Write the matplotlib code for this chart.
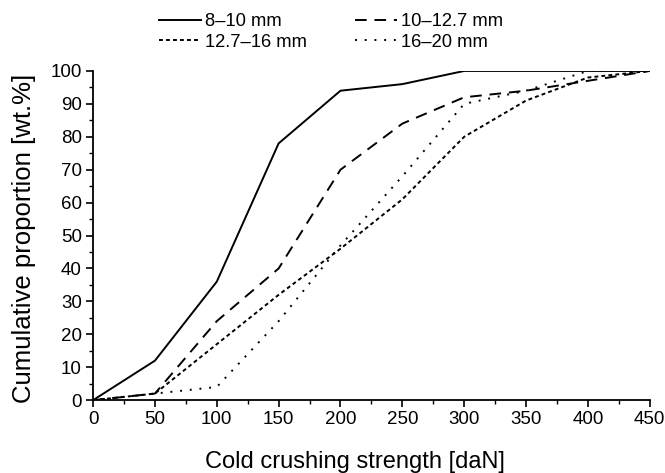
import matplotlib
matplotlib.use("Agg")
import matplotlib.pyplot as plt
from matplotlib.ticker import MultipleLocator

plt.rcParams["font.family"] = ["Liberation Sans", "DejaVu Sans"]

# Cold crushing strength [daN] vs cumulative proportion [wt.%]
strength = [0, 50, 100, 150, 200, 250, 300, 350, 400, 450]
size_labels = ["8–10 mm", "10–12.7 mm", "12.7–16 mm", "16–20 mm"]
cum_8_10 = [0, 12, 36, 78, 94, 96, 100, 100, 100, 100]
cum_10_12 = [0, 2, 24, 40, 70, 84, 92, 94, 97, 100]
cum_12_16 = [0, 2, 17, 32, 46, 61, 80, 91, 98, 100]
cum_16_20 = [0, 2, 4, 24, 47, 68, 90, 94, 100, 100]

styles = ["-", (0, (6, 4)), (0, (2, 1.6)), (0, (1, 4))]

fig = plt.figure(figsize=(6.65, 4.73), dpi=100)
ax = fig.add_axes([0.14, 0.154, 0.837, 0.696])

series = [cum_8_10, cum_10_12, cum_12_16, cum_16_20]
lines = []
for values, label, ls in zip(series, size_labels, styles):
    ln, = ax.plot(strength, values, color="black", linestyle=ls, linewidth=1.4, label=label)
    lines.append(ln)

ax.set_xlim(0, 450)
ax.set_ylim(0, 100)
ax.xaxis.set_major_locator(MultipleLocator(50))
ax.xaxis.set_minor_locator(MultipleLocator(25))
ax.yaxis.set_major_locator(MultipleLocator(10))
ax.yaxis.set_minor_locator(MultipleLocator(5))
ax.tick_params(which="major", direction="out", length=5, width=1.2, labelsize=13.5, pad=3)
ax.tick_params(which="minor", direction="out", length=3, width=1)
for side in ["top", "right"]:
    ax.spines[side].set_visible(False)
for side in ["left", "bottom"]:
    ax.spines[side].set_linewidth(1.3)

ax.set_xlabel("Cold crushing strength [daN]", fontsize=17)
ax.set_ylabel("Cumulative proportion [wt.%]", fontsize=18.5)
ax.xaxis.set_label_coords(0.47, -0.153)
ax.yaxis.set_label_coords(-0.102, 0.49)

# legend fills column-wise, so reorder to get rows: 8-10 | 10-12.7, 12.7-16 | 16-20
order = [0, 2, 1, 3]
fig.legend([lines[i] for i in order], [size_labels[i] for i in order],
           loc="center", bbox_to_anchor=(331 / 665, 1 - 32 / 473), ncol=2,
           frameon=False, fontsize=13.2, handlelength=2.3, handletextpad=0.2,
           columnspacing=2.6, labelspacing=0.2, borderpad=0)

fig.savefig("out.png", dpi=100)
